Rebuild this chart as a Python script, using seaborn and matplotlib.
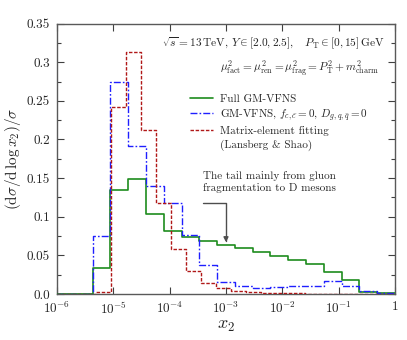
import numpy as np
import pandas as pd
import matplotlib
matplotlib.use('Agg')
import matplotlib.pyplot as plt
from matplotlib.lines import Line2D
import seaborn as sns

# bin edges (log10 x2): 19 bins for GM-VFNS curves, 20 bins for matrix-element fit
edges_vfns = np.logspace(-6, 0, 20)
edges_me = np.concatenate([[1e-6], np.logspace(np.log10(5e-6), 0, 21)])

full_vfns = [0, 0, 0.034, 0.135, 0.149, 0.103, 0.0816, 0.0738, 0.068, 0.0635,
             0.0596, 0.0544, 0.0496, 0.0445, 0.0384, 0.0289, 0.0177, 0.003, 0.001]
vfns_nog = [0, 0, 0.075, 0.274, 0.191, 0.1395, 0.118, 0.0768, 0.037, 0.016,
            0.0104, 0.0082, 0.0095, 0.0104, 0.0108, 0.0168, 0.0099, 0.0035, 0.0015]
me_fit = [0, 0.003, 0.242, 0.3126, 0.212, 0.1175, 0.0588, 0.0295, 0.0147, 0.0073,
          0.0039, 0.0022, 0.0014, 0.001, 0.0008, 0.0006, 0.0005, 0.0004, 0.0003,
          0.0002, 0.0002]

xticks = [1e-6, 1e-5, 1e-4, 1e-3, 1e-2, 1e-1, 1]
xticklabels = [r'$10^{-6}$', r'$10^{-5}$', r'$10^{-4}$', r'$10^{-3}$',
               r'$10^{-2}$', r'$10^{-1}$', '1']
yticks = [0.0, 0.05, 0.1, 0.15, 0.2, 0.25, 0.3, 0.35]
yticklabels = ['0.0', '0.05', '0.1', '0.15', '0.2', '0.25', '0.3', '0.35']

sns.set_theme(style='ticks')
plt.rcParams['font.family'] = ['cmr10', 'DejaVu Serif']
plt.rcParams['mathtext.fontset'] = 'cm'
plt.rcParams['axes.formatter.use_mathtext'] = True

c_green = '#1e8c1e'
c_blue = '#1f1fff'
c_red = '#b01818'

fig = plt.figure(figsize=(4.07, 3.40), dpi=100)
ax = fig.add_axes([0.140, 0.1353, 0.8305, 0.7953])


def step_df(edges, vals):
    return pd.DataFrame({'x': edges, 'y': list(vals) + [vals[-1]]})


sns.lineplot(data=step_df(edges_vfns, full_vfns), x='x', y='y', ax=ax,
             drawstyle='steps-post', color=c_green, lw=1.2, zorder=3)
sns.lineplot(data=step_df(edges_vfns, vfns_nog), x='x', y='y', ax=ax,
             drawstyle='steps-post', color=c_blue, lw=1.0, zorder=4)
ax.lines[-1].set_dashes((5, 1.5, 1.2, 1.5))
sns.lineplot(data=step_df(edges_me, me_fit), x='x', y='y', ax=ax,
             drawstyle='steps-post', color=c_red, lw=1.0, zorder=5)
ax.lines[-1].set_dashes((2.5, 1.2))

ax.set_xscale('log')
ax.set_xlim(1e-6, 1)
ax.set_ylim(0, 0.35)
ax.set_xticks(xticks)
ax.set_xticklabels(xticklabels)
ax.xaxis.set_minor_locator(matplotlib.ticker.NullLocator())
ax.set_yticks(yticks)
ax.set_yticklabels(yticklabels)
ax.yaxis.set_minor_locator(matplotlib.ticker.MultipleLocator(0.025))
ax.tick_params(which='both', direction='in', top=True, right=True,
               labelsize=9.5, color='0.25', pad=5)
ax.tick_params(which='major', length=5, width=0.8)
ax.tick_params(which='minor', length=3, width=0.8)
for s in ax.spines.values():
    s.set_color('0.35')
    s.set_linewidth(1.0)

ax.set_xlabel(r'$x_2$', fontsize=13, labelpad=1)
ax.set_ylabel(r'$(\mathrm{d}\sigma/\mathrm{d}\,\log x_2)/\sigma$', fontsize=11)
ax.yaxis.set_label_coords(-0.10, 0.5)

ax.text(0.970, 0.924,
        r'$\sqrt{s}=13\,\mathrm{TeV},\,Y\in[2.0,2.5],\quad P_\mathrm{T}\in[0,15]\,\mathrm{GeV}$',
        transform=ax.transAxes, ha='right', va='center', fontsize=8.2)
ax.text(0.953, 0.832,
        r'$\mu^2_\mathrm{fact}=\mu^2_\mathrm{ren}=\mu^2_\mathrm{frag}=P^2_\mathrm{T}+m^2_\mathrm{charm}$',
        transform=ax.transAxes, ha='right', va='center', fontsize=8.2)

handles = [Line2D([], [], color=c_green, lw=1.2),
           Line2D([], [], color=c_blue, lw=1.0, dashes=(5, 1.5, 1.2, 1.5)),
           Line2D([], [], color=c_red, lw=1.0, dashes=(2.5, 1.2)),
           Line2D([], [], color='none')]
labels = ['Full GM-VFNS',
          r'GM-VFNS, $f_{c,\bar{c}}=0$, $D_{g,q,\bar{q}}=0$',
          'Matrix-element fitting',
          '(Lansberg & Shao)']
ax.legend(handles, labels, loc='upper left',
          bbox_to_anchor=((190 - 57) / 338, (294 - 94) / 270.4),
          frameon=False, fontsize=8, handlelength=2.1, handletextpad=0.6,
          labelspacing=0.3, borderpad=0, borderaxespad=0)

ax.text(3.9e-4, 0.145, 'The tail mainly from gluon\nfragmentation to D mesons',
        ha='left', va='center', fontsize=8, linespacing=1.15)
ax.annotate('', xy=(1e-3, 0.067), xytext=(3.9e-4, 0.1175),
            arrowprops=dict(arrowstyle='-|>', color='0.3', lw=1.0,
                            mutation_scale=7,
                            connectionstyle='angle,angleA=0,angleB=90,rad=0',
                            shrinkA=0, shrinkB=0))

fig.savefig('out.png', dpi=100)
